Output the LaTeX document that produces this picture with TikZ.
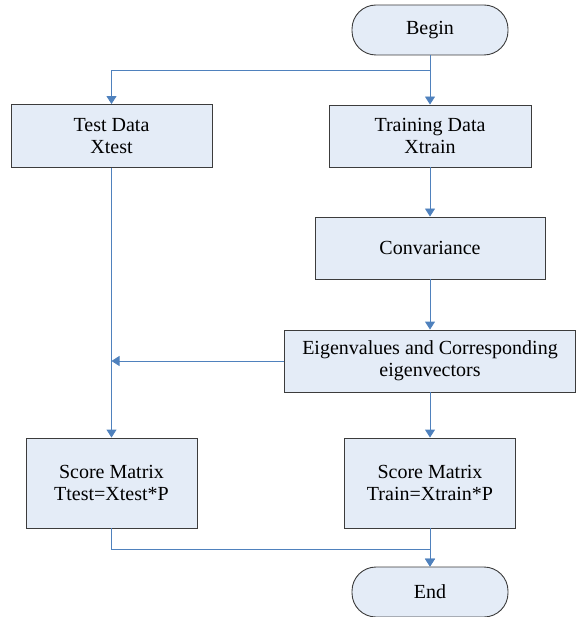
\documentclass[tikz,border=0pt]{standalone}
\usepackage{fontspec}
\setmainfont{Liberation Serif}
\usetikzlibrary{arrows.meta}
\definecolor{boxfill}{RGB}{228,236,247}
\definecolor{boxline}{RGB}{60,60,60}
\definecolor{linkblue}{RGB}{79,129,189}
\begin{document}
\begin{tikzpicture}[x=1pt,y=-1pt,
    box/.style={draw=boxline,fill=boxfill,line width=0.9pt,align=center,inner sep=0pt,
      font=\fontsize{20}{22}\selectfont},
    term/.style={box,rounded corners=24pt,minimum width=156pt,minimum height=50pt},
    link/.style={draw=linkblue,line width=0.9pt,-{Triangle[width=10pt,length=8pt]}}]
  \useasboundingbox (0,0) rectangle (576,617);
  % nodes
  \node[term] (begin) at (430,30) {Begin};
  \node[box,minimum width=201pt,minimum height=63pt] (test) at (111.5,136) {Test Data\\Xtest};
  \node[box,minimum width=202pt,minimum height=62pt] (train) at (430,136) {Training Data\\Xtrain};
  \node[box,minimum width=230pt,minimum height=62pt] (conv) at (430,248) {Convariance};
  \node[box,minimum width=291pt,minimum height=62pt] (eigen) at (430,361) {Eigenvalues and Corresponding\\eigenvectors};
  \node[box,minimum width=171pt,minimum height=90pt] (scoretest) at (111.5,483) {Score Matrix\\Ttest=Xtest*P};
  \node[box,minimum width=171pt,minimum height=90pt] (scoretrain) at (430,483) {Score Matrix\\Train=Xtrain*P};
  \node[term] (end) at (430,592) {End};
  \coordinate (split) at (430,70);
  \coordinate (meet) at (eigen.west -| test.south);
  \coordinate (join) at (430,549);
  % connectors
  \draw[link] (begin.south) -- (train.north);
  \draw[link] (begin.south) -- (split) -| (test.north);
  \draw[link] (train.south) -- (conv.north);
  \draw[link] (conv.south) -- (eigen.north);
  \draw[link] (eigen.west) -- (meet);
  \draw[link] (test.south) -- (scoretest.north);
  \draw[link] (eigen.south) -- (scoretrain.north);
  \draw[link] (scoretest.south) |- (join) -- (end.north);
  \draw[link] (scoretrain.south) -- (end.north);
\end{tikzpicture}
\end{document}
